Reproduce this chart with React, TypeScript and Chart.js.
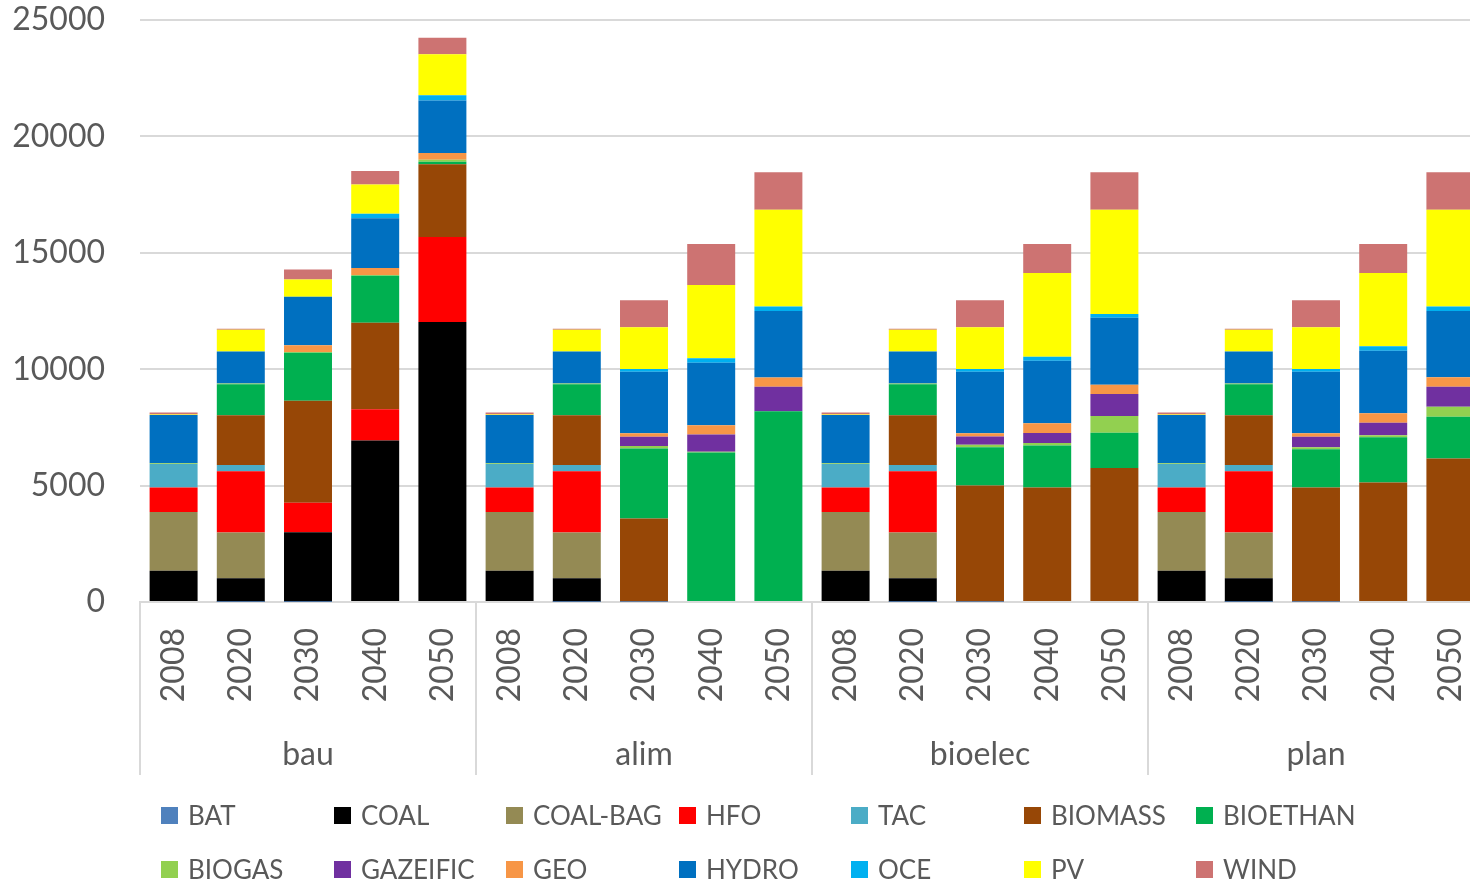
import React, { useEffect, useRef } from "react";
import { Chart, registerables } from "chart.js";

Chart.register(...registerables);

// Scenario groups and the years shown inside each group
const scenarios = ["bau", "alim", "bioelec", "plan"];
const years = ["2008", "2020", "2030", "2040", "2050"];

// Value axis
const yMin = 0;
const yMax = 25000;
const yStep = 5000;

// Series values, ordered bau 2008..2050, alim 2008..2050, bioelec 2008..2050, plan 2008..2050
const BAT = [0, 15, 15, 0, 0, 0, 15, 15, 0, 0, 0, 15, 15, 0, 0, 0, 15, 15, 0, 0];
const COAL = [1340, 1005, 2985, 6940, 12030, 1340, 1005, 0, 0, 0, 1340, 1005, 0, 0, 0, 1340, 1005, 0, 0, 0];
const COAL_BAG = [2530, 1965, 0, 0, 0, 2530, 1965, 0, 0, 0, 2530, 1965, 0, 0, 0, 2530, 1965, 0, 0, 0];
const HFO = [1050, 2630, 1260, 1335, 3645, 1050, 2630, 0, 0, 0, 1050, 2630, 0, 0, 0, 1050, 2630, 0, 0, 0];
const TAC = [1010, 275, 0, 0, 0, 1010, 275, 0, 0, 0, 1010, 275, 0, 0, 0, 1010, 275, 0, 0, 0];
const BIOMASS = [0, 2130, 4390, 3725, 3130, 0, 2130, 3575, 0, 0, 0, 2130, 4985, 4920, 5760, 0, 2130, 4905, 5130, 6160];
const BIOETHAN = [0, 1330, 2060, 2010, 110, 0, 1330, 3000, 6420, 8190, 0, 1330, 1645, 1800, 1515, 0, 1330, 1640, 1945, 1800];
const BIOGAS = [30, 40, 30, 40, 80, 30, 40, 110, 30, 0, 30, 40, 115, 110, 715, 30, 40, 85, 85, 430];
const GAZEIFIC = [0, 0, 0, 0, 0, 0, 0, 400, 740, 1055, 0, 0, 345, 430, 945, 0, 0, 455, 545, 860];
const GEO = [0, 0, 290, 300, 290, 0, 0, 145, 400, 400, 0, 0, 140, 415, 400, 0, 0, 145, 400, 400];
const HYDRO = [2070, 1365, 2080, 2130, 2260, 2070, 1365, 2645, 2685, 2860, 2070, 1365, 2645, 2685, 2870, 2070, 1365, 2645, 2685, 2855];
const OCE = [0, 0, 0, 195, 225, 0, 0, 115, 200, 185, 0, 0, 115, 170, 170, 0, 0, 115, 200, 185];
const PV = [20, 935, 740, 1260, 1760, 20, 935, 1800, 3145, 4160, 20, 935, 1800, 3600, 4475, 20, 935, 1800, 3145, 4160];
const WIND = [90, 50, 435, 580, 710, 90, 50, 1160, 1760, 1615, 90, 50, 1160, 1245, 1615, 90, 50, 1160, 1245, 1615];

const seriesNames = ["BAT", "COAL", "COAL-BAG", "HFO", "TAC", "BIOMASS", "BIOETHAN", "BIOGAS", "GAZEIFIC", "GEO", "HYDRO", "OCE", "PV", "WIND"];
const seriesValues = [BAT, COAL, COAL_BAG, HFO, TAC, BIOMASS, BIOETHAN, BIOGAS, GAZEIFIC, GEO, HYDRO, OCE, PV, WIND];
const seriesColors = [
  "#4F81BD", "#000000", "#948A54", "#FF0000", "#4BACC6", "#974706", "#00B050",
  "#92D050", "#7030A0", "#F79646", "#0070C0", "#00B0F0", "#FFFF00", "#CD7372",
];

const FONT = "Lato, 'Open Sans', sans-serif";
const TEXT = "#595959";
const GRID = "#d9d9d9";

const CANVAS_W = 1484;
const CANVAS_H = 885;

// Category labels: the year list repeated for each scenario
const xLabels = scenarios.flatMap(() => years);

// Second level of the category axis: separators and scenario names
const groupAxis = {
  id: "groupAxis",
  afterDraw(chart: any) {
    const x = chart.scales.x;
    const ctx: CanvasRenderingContext2D = chart.ctx;
    const step = x.getPixelForValue(1) - x.getPixelForValue(0);
    const top = chart.chartArea.bottom;
    const bottom = x.bottom;
    ctx.save();
    ctx.strokeStyle = GRID;
    ctx.lineWidth = 2;
    for (let g = 0; g <= scenarios.length; g++) {
      const px = Math.round(x.getPixelForValue(g * years.length) - step / 2);
      ctx.beginPath();
      ctx.moveTo(px, top);
      ctx.lineTo(px, bottom);
      ctx.stroke();
    }
    ctx.fillStyle = TEXT;
    ctx.font = `32px ${FONT}`;
    ctx.textAlign = "center";
    ctx.textBaseline = "alphabetic";
    scenarios.forEach((s, g) => {
      const first = x.getPixelForValue(g * years.length);
      const last = x.getPixelForValue(g * years.length + years.length - 1);
      ctx.fillText(s, (first + last) / 2, bottom - 10);
    });
    ctx.restore();
  },
};

// Legend laid out on a fixed two-row grid
const gridLegend = {
  id: "gridLegend",
  afterDraw(chart: any) {
    const ctx: CanvasRenderingContext2D = chart.ctx;
    const perRow = 7;
    const colStart = 161;
    const colStep = 172.5;
    const baselines = [825, 879];
    ctx.save();
    ctx.font = `26px ${FONT}`;
    ctx.textAlign = "left";
    ctx.textBaseline = "alphabetic";
    chart.data.datasets.forEach((ds: any, i: number) => {
      const col = i % perRow;
      const row = Math.floor(i / perRow);
      const bx = Math.round(colStart + col * colStep);
      const by = baselines[row];
      ctx.fillStyle = ds.backgroundColor;
      ctx.fillRect(bx, by - 18, 17, 17);
      ctx.fillStyle = TEXT;
      ctx.fillText(ds.label, bx + 27, by);
    });
    ctx.restore();
  },
};

export default function App() {
  const ref = useRef<HTMLCanvasElement>(null);

  useEffect(() => {
    let chart: Chart | null = null;
    let cancelled = false;
    const build = () => {
      if (cancelled || !ref.current) return;
      chart = new Chart(ref.current, {
        type: "bar",
        data: {
          labels: xLabels,
          datasets: seriesNames.map((name, i) => ({
            label: name,
            data: seriesValues[i],
            backgroundColor: seriesColors[i],
            borderWidth: 0,
            categoryPercentage: 1,
            barPercentage: 0.714,
          })),
        },
        options: {
          responsive: false,
          animation: false,
          devicePixelRatio: 1,
          layout: { padding: { top: 20, bottom: 110, left: 0, right: 0 } },
          plugins: { legend: { display: false }, tooltip: { enabled: false } },
          scales: {
            x: {
              stacked: true,
              grid: { display: false, drawTicks: false },
              border: { display: true, color: GRID, width: 2 },
              ticks: {
                autoSkip: false,
                minRotation: 90,
                maxRotation: 90,
                padding: 26,
                color: TEXT,
                font: { family: FONT, size: 32 },
              },
              afterFit: (s: any) => {
                s.height = 173;
                s.paddingLeft = 0;
                s.paddingRight = 0;
                s.paddingTop = 0;
                s.paddingBottom = 0;
              },
            },
            y: {
              stacked: true,
              min: yMin,
              max: yMax,
              ticks: {
                stepSize: yStep,
                padding: 35,
                color: TEXT,
                font: { family: FONT, size: 32 },
                callback: (v: any) => String(v),
              },
              grid: { color: GRID, lineWidth: 2, drawTicks: false },
              border: { display: false },
              afterFit: (s: any) => {
                s.width = 140;
                s.paddingTop = 0;
                s.paddingBottom = 0;
                s.paddingLeft = 0;
                s.paddingRight = 0;
              },
            },
          },
        },
        plugins: [groupAxis, gridLegend],
      });
    };
    const ready = (document as any).fonts ? (document as any).fonts.load(`32px Lato`) : Promise.resolve();
    ready.then(build, build);
    return () => {
      cancelled = true;
      if (chart) chart.destroy();
    };
  }, []);

  return (
    <div
      style={{
        position: "absolute",
        left: 0,
        top: 0,
        width: 1470,
        height: 885,
        overflow: "hidden",
        background: "#ffffff",
      }}
    >
      <canvas ref={ref} width={CANVAS_W} height={CANVAS_H} style={{ display: "block", width: CANVAS_W, height: CANVAS_H }} />
    </div>
  );
}
